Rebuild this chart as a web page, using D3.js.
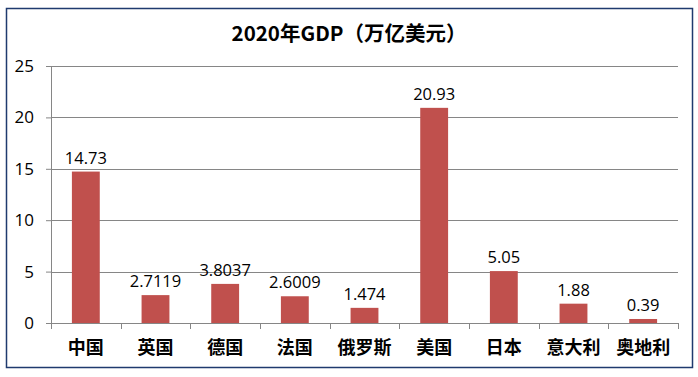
<!DOCTYPE html>
<html>
<head>
<meta charset="utf-8">
<script src="https://cdn.jsdelivr.net/npm/d3@7"></script>
<style>
  body { margin: 0; background: #fff; }
</style>
</head>
<body>
<div id="chart"></div>
<script>
const COUNTRIES = ['中国', '英国', '德国', '法国', '俄罗斯', '美国', '日本', '意大利', '奥地利'];
const GDP = [14.73, 2.7119, 3.8037, 2.6009, 1.474, 20.93, 5.05, 1.88, 0.39];
const GDP_LABELS = ['14.73', '2.7119', '3.8037', '2.6009', '1.474', '20.93', '5.05', '1.88', '0.39'];
const Y_TICKS = [0, 5, 10, 15, 20, 25];
const TITLE = '2020年GDP（万亿美元）';

const width = 698;
const height = 377;
const margin = { top: 66, right: 20, bottom: 54, left: 51 };
const plotW = 678 - margin.left;
const plotH = 323 - margin.top;

const svg = d3.select('#chart')
  .append('svg')
  .attr('width', width)
  .attr('height', height);

// outer frame
svg.append('rect')
  .attr('x', 6.5)
  .attr('y', 8.5)
  .attr('width', 686)
  .attr('height', 359)
  .attr('fill', '#fff')
  .attr('stroke', '#1f3a6e')
  .attr('stroke-width', 1.5);

svg.append('text')
  .attr('x', 349)
  .attr('y', 41)
  .attr('text-anchor', 'middle')
  .style('font-family', '"Noto Sans CJK SC", "Noto Sans", sans-serif')
  .style('font-weight', 'bold')
  .style('font-size', '20.5px')
  .attr('fill', '#000')
  .text(TITLE);

const g = svg.append('g')
  .attr('transform', `translate(${margin.left},${margin.top})`);

const x = d3.scaleBand()
  .domain(COUNTRIES)
  .range([0, plotW])
  .paddingInner(0.6)
  .paddingOuter(0.3);

const y = d3.scaleLinear()
  .domain([0, 25])
  .range([plotH, 0]);

// gridlines
g.selectAll('.grid')
  .data(Y_TICKS.slice(1))
  .enter()
  .append('line')
  .attr('x1', 0)
  .attr('x2', plotW)
  .attr('y1', (d) => Math.round(y(d)) + 0.5)
  .attr('y2', (d) => Math.round(y(d)) + 0.5)
  .attr('stroke', '#868686')
  .attr('stroke-width', 1);

// y axis
const yAxis = g.append('g')
  .call(d3.axisLeft(y).tickValues(Y_TICKS).tickSize(5).tickPadding(12).tickFormat(d3.format('d')));
yAxis.select('.domain').attr('stroke', '#868686');
yAxis.selectAll('line').attr('stroke', '#868686');
yAxis.selectAll('text')
  .style('font-family', '"Open Sans", "Noto Sans", sans-serif')
  .style('font-size', '17px')
  .attr('fill', '#000');

// bars
g.selectAll('.bar')
  .data(GDP)
  .enter()
  .append('rect')
  .attr('class', 'bar')
  .attr('x', (d, i) => x(COUNTRIES[i]))
  .attr('y', (d) => y(d))
  .attr('width', x.bandwidth())
  .attr('height', (d) => plotH - y(d))
  .attr('fill', '#c0504d');

// value labels
g.selectAll('.val')
  .data(GDP)
  .enter()
  .append('text')
  .attr('x', (d, i) => x(COUNTRIES[i]) + x.bandwidth() / 2)
  .attr('y', (d) => y(d) - 8)
  .attr('text-anchor', 'middle')
  .style('font-family', '"Open Sans", "Noto Sans", sans-serif')
  .style('font-size', '16.5px')
  .attr('fill', '#000')
  .text((d, i) => GDP_LABELS[i]);

// x axis with ticks on category boundaries
const xAxis = g.append('g')
  .attr('transform', `translate(0,${plotH})`);
xAxis.append('line')
  .attr('x1', 0)
  .attr('x2', plotW)
  .attr('y1', 0.5)
  .attr('y2', 0.5)
  .attr('stroke', '#868686');
const step = x.step();
xAxis.selectAll('.xtick')
  .data(d3.range(COUNTRIES.length + 1))
  .enter()
  .append('line')
  .attr('x1', (d) => Math.round(d * step) + 0.5)
  .attr('x2', (d) => Math.round(d * step) + 0.5)
  .attr('y1', 0)
  .attr('y2', 6)
  .attr('stroke', '#868686');
xAxis.selectAll('.xlabel')
  .data(COUNTRIES)
  .enter()
  .append('text')
  .attr('x', (d) => x(d) + x.bandwidth() / 2)
  .attr('y', 31)
  .attr('text-anchor', 'middle')
  .style('font-family', '"Noto Sans CJK SC", sans-serif')
  .style('font-weight', 'bold')
  .style('font-size', '18px')
  .attr('fill', '#000')
  .text((d) => d);
</script>
</body>
</html>
